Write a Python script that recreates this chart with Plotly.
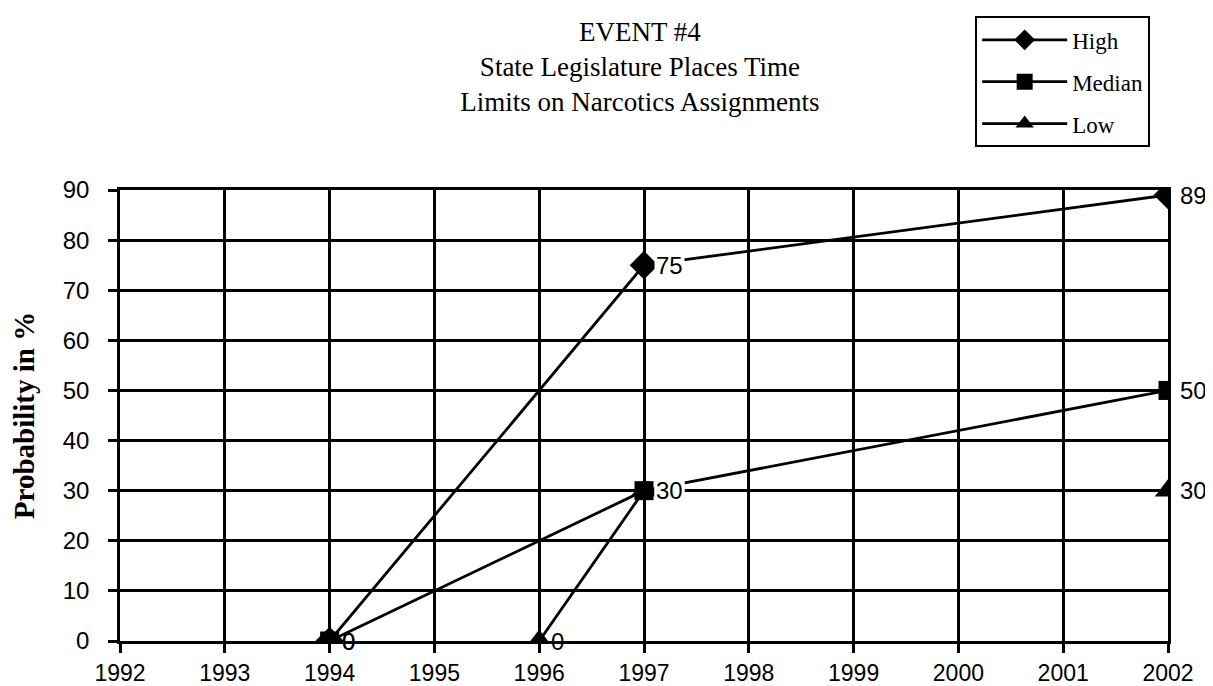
import plotly.graph_objects as go

years_high = [1994, 1997, 2002]
high = [0, 75, 89]
years_median = [1994, 1997, 2002]
median = [0, 30, 50]
years_low = [1996, 1997, 2002]
low = [0, 30, 30]

x_ticks = list(range(1992, 2003))
y_ticks = list(range(0, 100, 10))

title_lines = ["EVENT #4", "State Legislature Places Time", "Limits on Narcotics Assignments"]

fig = go.Figure()

series = [
    ("High", years_high, high, "diamond", 22),
    ("Median", years_median, median, "square", 19),
    ("Low", years_low, low, "triangle-up", 23),
]
for name, xs, ys, sym, sz in series:
    fig.add_trace(go.Scatter(
        x=xs, y=ys, name=name, mode="lines+markers", legendgroup=name,
        line=dict(color="black", width=2.8),
        marker=dict(symbol=sym, size=sz, color="black"),
    ))

annotations = []
for name, xs, ys, sym, sz in series:
    for xv, yv in zip(xs, ys):
        annotations.append(dict(
            x=xv, y=yv, text=str(yv), showarrow=False,
            xanchor="left", yanchor="middle", xshift=10,
            font=dict(family="Liberation Sans, Arial, sans-serif", size=24, color="black"),
            bgcolor="white" if xv == 1997 else "rgba(0,0,0,0)",
            borderpad=1,
        ))

fig.update_layout(
    width=1213, height=686,
    margin=dict(l=112, r=53, t=182, b=53, autoexpand=False),
    paper_bgcolor="white", plot_bgcolor="white",
    title=dict(
        text="<br>".join(title_lines),
        x=0.521, xanchor="center", y=0.952, yanchor="top",
        font=dict(family="Liberation Serif, Times New Roman, serif", size=27, color="black"),
    ),
    showlegend=True,
    legend=dict(
        x=0.8160, y=1.385, xanchor="left", yanchor="top",
        bordercolor="black", borderwidth=2, bgcolor="white",
        font=dict(family="Liberation Serif, Times New Roman, serif", size=23, color="black"),
        itemwidth=85, tracegroupgap=9, traceorder="grouped",
    ),
    annotations=annotations,
)

axis_common = dict(
    showgrid=True, gridcolor="black", gridwidth=2.5,
    showline=True, linecolor="black", linewidth=2.5, mirror=True,
    ticks="outside", ticklen=9, tickwidth=2.5, tickcolor="black",
    zeroline=False,
)

fig.update_xaxes(range=[1992, 2002], tickvals=x_ticks, ticktext=[str(v) for v in x_ticks],
                 ticklabelstandoff=1,
                 tickfont=dict(family="Liberation Sans, Arial, sans-serif", size=23, color="black"),
                 **axis_common)
fig.update_yaxes(range=[0, 90], tickvals=y_ticks, ticktext=[str(v) for v in y_ticks],
                 ticklabelstandoff=14,
                 tickfont=dict(family="Liberation Sans, Arial, sans-serif", size=24, color="black"),
                 title=dict(text="<b>Probability in %</b>", standoff=20,
                            font=dict(family="Liberation Serif, Times New Roman, serif", size=29, color="black")),
                 **axis_common)

fig.write_html("out.html")
